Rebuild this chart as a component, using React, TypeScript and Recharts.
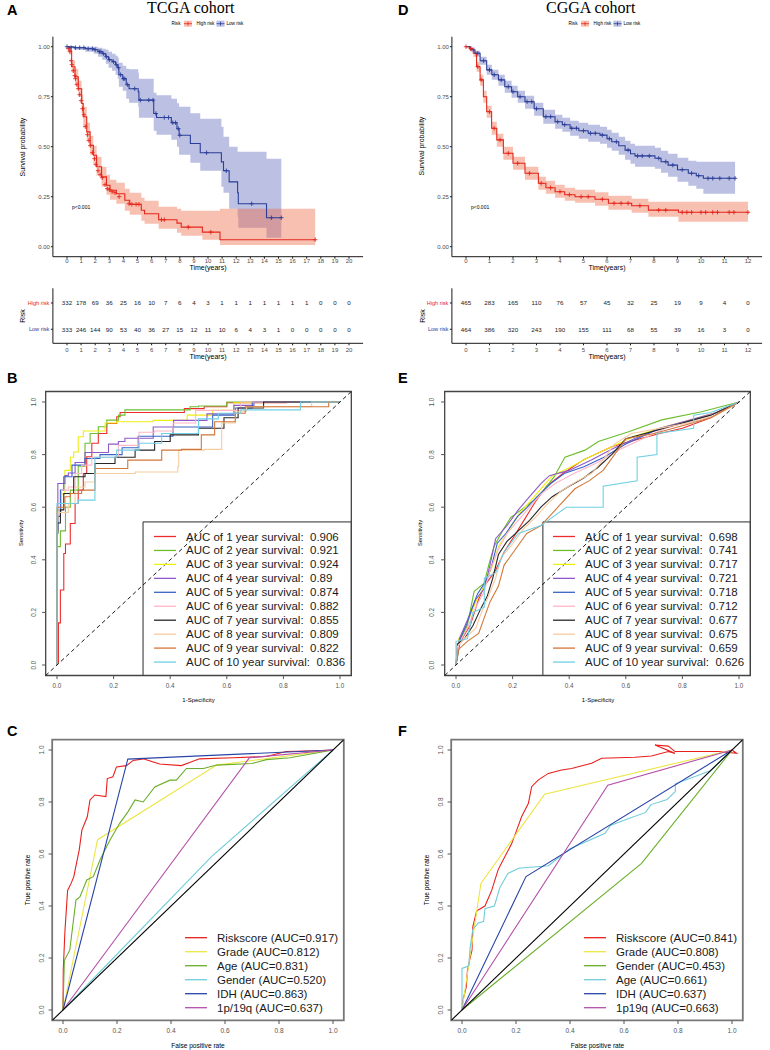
import React from "react";
import {
  Area,
  ComposedChart,
  Line,
  ReferenceArea,
  Scatter,
  XAxis,
  YAxis,
} from "recharts";

const SANS = "'Liberation Sans', Arial, Helvetica, sans-serif";
const SERIF = "'Liberation Serif', 'Times New Roman', serif";

const RED = "#E4261C";
const BLUE = "#2B3E97";
const RED_FILL = "#EF6A42";
const BLUE_FILL = "#4450B2";

// ---- Kaplan-Meier curves: [time, survival, lower CI, upper CI] ----
const tcgaHighKM = [
  [0, 1, 1, 1], [0.2, 0.98, 0.96, 1], [0.33, 0.9, 0.87, 0.93], [0.57, 0.85, 0.81, 0.89],
  [0.8, 0.79, 0.75, 0.83], [1.04, 0.716, 0.67, 0.76], [1.15, 0.65, 0.6, 0.7],
  [1.4, 0.574, 0.53, 0.62], [1.64, 0.507, 0.46, 0.555], [1.87, 0.457, 0.41, 0.505],
  [2.1, 0.4, 0.355, 0.45], [2.45, 0.349, 0.3, 0.4], [2.8, 0.307, 0.26, 0.36],
  [3.05, 0.282, 0.235, 0.335], [3.5, 0.265, 0.215, 0.32], [4.1, 0.232, 0.18, 0.29],
  [4.45, 0.212, 0.16, 0.27], [5.27, 0.182, 0.13, 0.245], [5.5, 0.165, 0.115, 0.23],
  [6.5, 0.135, 0.09, 0.2], [7.8, 0.118, 0.07, 0.19], [8.1, 0.098, 0.055, 0.18],
  [9.6, 0.073, 0.035, 0.18], [10.85, 0.035, 0.008, 0.19], [17.6, 0.035, 0.008, 0.19],
];
const tcgaLowKM = [
  [0, 1, 1, 1], [0.5, 0.995, 0.985, 1], [1.3, 0.99, 0.975, 1], [1.9, 0.985, 0.965, 1],
  [2.2, 0.975, 0.95, 0.995], [2.5, 0.965, 0.935, 0.99], [2.75, 0.95, 0.915, 0.985],
  [2.95, 0.935, 0.895, 0.975], [3.2, 0.925, 0.88, 0.965], [3.45, 0.91, 0.86, 0.955],
  [3.6, 0.895, 0.84, 0.945], [3.68, 0.86, 0.8, 0.92], [3.95, 0.84, 0.78, 0.905],
  [4.2, 0.81, 0.74, 0.89], [4.4, 0.79, 0.72, 0.887], [5.05, 0.775, 0.7, 0.87],
  [5.1, 0.733, 0.645, 0.84], [6.15, 0.666, 0.58, 0.77], [6.35, 0.646, 0.56, 0.757],
  [7.4, 0.62, 0.535, 0.74], [7.8, 0.59, 0.5, 0.717], [7.95, 0.557, 0.46, 0.7],
  [8.75, 0.516, 0.42, 0.667], [9.45, 0.47, 0.38, 0.64], [10.95, 0.424, 0.3, 0.6],
  [11.1, 0.38, 0.27, 0.55], [11.5, 0.324, 0.19, 0.5], [12.1, 0.27, 0.15, 0.475],
  [12.15, 0.215, 0.095, 0.475], [14.15, 0.145, 0.045, 0.44], [15.2, 0.145, 0.045, 0.44],
];
const tcgaHighCens = [
  [0.1, 0.99], [0.2, 0.975], [0.3, 0.93], [0.35, 0.91], [0.45, 0.88], [0.55, 0.855],
  [0.6, 0.84], [0.7, 0.81], [0.8, 0.79], [0.9, 0.76], [1.0, 0.73], [1.1, 0.69],
  [1.2, 0.66], [1.3, 0.6], [1.45, 0.56], [1.55, 0.53], [1.65, 0.505], [1.8, 0.47],
  [1.95, 0.44], [2.05, 0.41], [2.2, 0.38], [2.35, 0.36], [2.5, 0.345], [2.7, 0.31],
  [2.85, 0.29], [3.0, 0.285], [3.2, 0.275], [3.4, 0.27], [3.7, 0.25], [4.4, 0.215],
  [4.6, 0.212], [4.9, 0.212], [5.1, 0.212], [6.7, 0.135], [6.9, 0.135], [8.6, 0.098],
  [10.2, 0.073], [17.6, 0.035],
];
const tcgaLowCens = [
  [0, 1], [0.3, 0.995], [0.6, 0.995], [0.9, 0.995], [1.2, 0.995], [1.5, 0.99], [1.8, 0.99],
  [2.0, 0.985], [2.3, 0.975], [2.4, 0.975], [2.6, 0.965], [2.8, 0.95], [3.0, 0.935],
  [3.3, 0.925], [3.5, 0.91], [3.65, 0.895], [3.8, 0.86], [4.0, 0.84], [4.1, 0.84],
  [4.3, 0.81], [4.8, 0.79], [5.2, 0.733], [5.8, 0.733], [6.1, 0.733], [6.3, 0.666],
  [6.9, 0.646], [7.2, 0.646], [7.5, 0.62], [7.7, 0.62], [7.9, 0.59], [8.0, 0.557],
  [9.9, 0.47], [11.3, 0.38], [13.1, 0.215], [14.5, 0.145], [15.2, 0.145],
];

const cggaHighKM = [
  [0, 1, 1, 1], [0.15, 0.99, 0.98, 1], [0.31, 0.967, 0.95, 0.98], [0.45, 0.9, 0.875, 0.925],
  [0.6, 0.834, 0.805, 0.86], [0.74, 0.75, 0.72, 0.78], [0.88, 0.675, 0.645, 0.705],
  [1.09, 0.592, 0.56, 0.625], [1.31, 0.534, 0.5, 0.565], [1.59, 0.467, 0.435, 0.5],
  [2.0, 0.417, 0.385, 0.45], [2.51, 0.367, 0.335, 0.4], [3.08, 0.317, 0.285, 0.35],
  [3.4, 0.295, 0.265, 0.33], [3.79, 0.275, 0.245, 0.31], [4.2, 0.26, 0.23, 0.295],
  [4.64, 0.25, 0.22, 0.285], [5.49, 0.237, 0.205, 0.272], [6.06, 0.217, 0.185, 0.255],
  [7.05, 0.205, 0.17, 0.24], [7.76, 0.183, 0.15, 0.225], [9.04, 0.172, 0.125, 0.225],
  [12.0, 0.172, 0.125, 0.225],
];
const cggaLowKM = [
  [0, 1, 1, 1], [0.2, 0.985, 0.975, 0.995], [0.38, 0.967, 0.95, 0.98], [0.6, 0.93, 0.91, 0.95],
  [0.88, 0.884, 0.86, 0.91], [1.1, 0.86, 0.835, 0.885], [1.38, 0.834, 0.805, 0.86],
  [1.65, 0.8, 0.77, 0.83], [1.94, 0.775, 0.745, 0.805], [2.2, 0.75, 0.72, 0.78],
  [2.51, 0.725, 0.69, 0.755], [2.9, 0.69, 0.655, 0.72], [3.29, 0.65, 0.615, 0.685],
  [3.79, 0.625, 0.59, 0.66], [4.1, 0.61, 0.575, 0.645], [4.43, 0.592, 0.555, 0.63],
  [4.8, 0.58, 0.54, 0.62], [5.2, 0.567, 0.525, 0.61], [5.7, 0.558, 0.515, 0.6],
  [6.0, 0.54, 0.495, 0.585], [6.2, 0.525, 0.48, 0.57], [6.5, 0.505, 0.46, 0.55],
  [6.77, 0.483, 0.435, 0.53], [7.0, 0.465, 0.415, 0.515], [7.19, 0.454, 0.4, 0.505],
  [8.04, 0.442, 0.39, 0.495], [8.3, 0.425, 0.37, 0.48], [8.6, 0.408, 0.35, 0.465],
  [9.0, 0.385, 0.325, 0.445], [9.46, 0.367, 0.305, 0.43], [9.8, 0.355, 0.29, 0.425],
  [10.1, 0.342, 0.265, 0.425], [11.45, 0.342, 0.265, 0.425],
];
const cggaHighCens = [
  [0, 1], [0.2, 0.99], [0.5, 0.9], [0.65, 0.834], [1.0, 0.675], [1.2, 0.592], [1.45, 0.534],
  [1.8, 0.467], [2.2, 0.417], [2.7, 0.367], [3.2, 0.317], [3.6, 0.295], [4.0, 0.275],
  [4.4, 0.26], [4.9, 0.25], [5.2, 0.25], [5.8, 0.237], [6.3, 0.217], [6.6, 0.217],
  [6.9, 0.217], [7.4, 0.205], [8.2, 0.183], [8.5, 0.183], [9.2, 0.172], [9.4, 0.172],
  [9.6, 0.172], [10.0, 0.172], [10.2, 0.172], [10.5, 0.172], [10.7, 0.172], [11.2, 0.172],
  [11.4, 0.172], [12.0, 0.172],
];
const cggaLowCens = [
  [0.5, 0.967], [0.75, 0.93], [1.0, 0.884], [1.2, 0.86], [1.5, 0.834], [1.8, 0.8],
  [2.0, 0.775], [2.3, 0.75], [2.6, 0.725], [2.8, 0.725], [3.0, 0.69], [3.4, 0.65],
  [3.6, 0.65], [3.9, 0.625], [4.2, 0.61], [4.5, 0.592], [4.7, 0.592], [5.0, 0.58],
  [5.3, 0.567], [5.5, 0.567], [5.8, 0.558], [6.1, 0.54], [6.4, 0.525], [6.9, 0.483],
  [7.3, 0.454], [7.5, 0.454], [7.8, 0.454], [8.2, 0.442], [8.5, 0.425], [8.8, 0.408],
  [9.2, 0.385], [9.6, 0.367], [9.9, 0.355], [10.3, 0.342], [10.5, 0.342], [10.8, 0.342],
  [11.2, 0.342], [11.45, 0.342],
];

// ---- numbers at risk ----
const tcgaYears = [0, 1, 2, 3, 4, 5, 6, 7, 8, 9, 10, 11, 12, 13, 14, 15, 16, 17, 18, 19, 20];
const tcgaHighRisk = [332, 178, 69, 36, 25, 16, 10, 7, 6, 4, 3, 1, 1, 1, 1, 1, 1, 1, 0, 0, 0];
const tcgaLowRisk = [333, 246, 144, 90, 53, 40, 36, 27, 15, 12, 11, 10, 6, 4, 3, 1, 0, 0, 0, 0, 0];
const cggaYears = [0, 1, 2, 3, 4, 5, 6, 7, 8, 9, 10, 11, 12];
const cggaHighRisk = [465, 283, 165, 110, 76, 57, 45, 32, 25, 19, 9, 4, 0];
const cggaLowRisk = [464, 386, 320, 243, 190, 155, 111, 68, 55, 39, 16, 3, 0];
const riskGroups = ["Low risk", "High risk"];

// ---- time-dependent ROC (B: TCGA, E: CGGA) ----
const yearLabels = ["1", "2", "3", "4", "5", "6", "7", "8", "9", "10"];
const yearColors = ["#EE2C2C", "#6DBE2E", "#EEEE10", "#8E5AC8", "#3A63C6", "#FFB6C8", "#262626", "#F5CBA0", "#D2773A", "#6FD0E3"];
const tcgaYearAuc = ["0.906", "0.921", "0.924", "0.89", "0.874", "0.882", "0.855", "0.809", "0.822", "0.836"];
const cggaYearAuc = ["0.698", "0.741", "0.717", "0.721", "0.718", "0.712", "0.677", "0.675", "0.659", "0.626"];

const tcgaYearRoc = [
  [[0, 0], [0.005, 0.01], [0.012, 0.16], [0.024, 0.285], [0.03, 0.424], [0.047, 0.46], [0.064, 0.538], [0.075, 0.614], [0.093, 0.665], [0.105, 0.728], [0.123, 0.792], [0.146, 0.843], [0.176, 0.88], [0.211, 0.918], [0.223, 0.944], [0.27, 0.96], [0.45, 0.96], [0.52, 0.975], [0.6, 0.982], [0.81, 0.997], [1, 1]],
  [[0, 0], [0, 0.36], [0.012, 0.45], [0.03, 0.51], [0.047, 0.6], [0.075, 0.665], [0.099, 0.756], [0.117, 0.843], [0.146, 0.88], [0.176, 0.906], [0.217, 0.931], [0.24, 0.95], [0.3, 0.97], [0.47, 0.97], [0.5, 0.982], [0.6, 0.985], [0.81, 1], [1, 1]],
  [[0, 0], [0, 0.49], [0.016, 0.59], [0.028, 0.65], [0.047, 0.74], [0.059, 0.79], [0.075, 0.81], [0.093, 0.868], [0.17, 0.89], [0.21, 0.92], [0.34, 0.925], [0.46, 0.93], [0.55, 0.95], [0.625, 0.968], [0.717, 0.997], [1, 1]],
  [[0, 0], [0.003, 0.54], [0.028, 0.69], [0.04, 0.72], [0.064, 0.73], [0.099, 0.77], [0.182, 0.808], [0.217, 0.84], [0.24, 0.85], [0.34, 0.862], [0.412, 0.905], [0.53, 0.93], [0.625, 0.955], [0.696, 0.987], [0.85, 1], [1, 1]],
  [[0, 0], [0.003, 0.51], [0.012, 0.565], [0.024, 0.665], [0.053, 0.716], [0.099, 0.76], [0.152, 0.785], [0.23, 0.8], [0.287, 0.826], [0.41, 0.87], [0.55, 0.905], [0.63, 0.95], [0.69, 0.977], [1, 1]],
  [[0, 0], [0, 0.46], [0.016, 0.58], [0.04, 0.665], [0.064, 0.677], [0.087, 0.728], [0.123, 0.76], [0.217, 0.79], [0.29, 0.835], [0.345, 0.885], [0.41, 0.89], [0.49, 0.92], [0.65, 0.968], [0.95, 1], [1, 1]],
  [[0, 0], [0.003, 0.5], [0.012, 0.54], [0.024, 0.59], [0.059, 0.652], [0.099, 0.716], [0.134, 0.728], [0.205, 0.766], [0.276, 0.79], [0.345, 0.817], [0.4, 0.85], [0.5, 0.875], [0.59, 0.9], [0.64, 0.94], [0.73, 0.977], [0.87, 1], [1, 1]],
  [[0, 0], [0.003, 0.55], [0.04, 0.58], [0.064, 0.614], [0.099, 0.677], [0.134, 0.696], [0.276, 0.728], [0.427, 0.734], [0.43, 0.754], [0.52, 0.817], [0.582, 0.82], [0.582, 0.875], [0.63, 0.92], [0.67, 0.965], [0.9, 0.982], [1, 1]],
  [[0, 0], [0, 0.6], [0.028, 0.6], [0.047, 0.64], [0.087, 0.652], [0.134, 0.665], [0.25, 0.747], [0.37, 0.779], [0.44, 0.817], [0.51, 0.82], [0.557, 0.875], [0.63, 0.925], [0.665, 0.957], [0.96, 0.982], [1, 1]],
  [[0, 0], [0, 0.58], [0.075, 0.614], [0.134, 0.627], [0.211, 0.79], [0.29, 0.817], [0.37, 0.843], [0.5, 0.88], [0.57, 0.936], [0.65, 0.957], [0.86, 0.97], [1, 1]],
];
const cggaYearRoc = [
  [[0, 0], [0.01, 0.08], [0.05, 0.15], [0.08, 0.25], [0.1, 0.3], [0.14, 0.36], [0.17, 0.43], [0.2, 0.48], [0.24, 0.55], [0.28, 0.62], [0.32, 0.68], [0.38, 0.73], [0.45, 0.78], [0.55, 0.83], [0.65, 0.86], [0.72, 0.88], [0.8, 0.9], [0.9, 0.94], [1, 1]],
  [[0, 0], [0.012, 0.09], [0.04, 0.15], [0.064, 0.28], [0.099, 0.31], [0.117, 0.385], [0.134, 0.45], [0.164, 0.51], [0.193, 0.56], [0.23, 0.59], [0.276, 0.627], [0.31, 0.665], [0.347, 0.716], [0.385, 0.79], [0.456, 0.817], [0.503, 0.85], [0.61, 0.887], [0.727, 0.932], [0.868, 0.963], [1, 1]],
  [[0, 0], [0.01, 0.1], [0.04, 0.16], [0.07, 0.24], [0.1, 0.3], [0.13, 0.38], [0.15, 0.45], [0.18, 0.5], [0.22, 0.57], [0.26, 0.62], [0.3, 0.67], [0.34, 0.72], [0.4, 0.75], [0.47, 0.79], [0.55, 0.83], [0.63, 0.87], [0.72, 0.9], [0.82, 0.93], [0.92, 0.96], [1, 1]],
  [[0, 0], [0.012, 0.1], [0.04, 0.17], [0.07, 0.25], [0.1, 0.29], [0.12, 0.38], [0.14, 0.48], [0.18, 0.53], [0.22, 0.59], [0.26, 0.64], [0.3, 0.69], [0.33, 0.72], [0.4, 0.74], [0.48, 0.78], [0.55, 0.82], [0.63, 0.86], [0.72, 0.9], [0.82, 0.93], [0.92, 0.96], [1, 1]],
  [[0, 0], [0.017, 0.104], [0.04, 0.16], [0.058, 0.22], [0.076, 0.27], [0.094, 0.3], [0.111, 0.33], [0.128, 0.386], [0.146, 0.463], [0.176, 0.5], [0.217, 0.564], [0.252, 0.6], [0.287, 0.64], [0.335, 0.69], [0.382, 0.728], [0.452, 0.754], [0.523, 0.79], [0.6, 0.84], [0.7, 0.89], [0.8, 0.92], [0.9, 0.95], [1, 1]],
  [[0, 0], [0.01, 0.08], [0.04, 0.14], [0.07, 0.22], [0.1, 0.28], [0.12, 0.36], [0.15, 0.44], [0.18, 0.5], [0.22, 0.55], [0.26, 0.6], [0.3, 0.65], [0.35, 0.69], [0.42, 0.73], [0.5, 0.77], [0.58, 0.82], [0.66, 0.86], [0.74, 0.9], [0.84, 0.93], [0.92, 0.96], [1, 1]],
  [[0, 0], [0.005, 0.08], [0.03, 0.1], [0.06, 0.15], [0.09, 0.22], [0.11, 0.26], [0.13, 0.33], [0.15, 0.42], [0.18, 0.47], [0.22, 0.51], [0.26, 0.55], [0.3, 0.6], [0.34, 0.64], [0.4, 0.68], [0.45, 0.71], [0.5, 0.75], [0.55, 0.8], [0.6, 0.86], [0.7, 0.89], [0.8, 0.92], [0.9, 0.95], [1, 1]],
  [[0, 0], [0.005, 0.07], [0.03, 0.1], [0.07, 0.14], [0.09, 0.2], [0.11, 0.25], [0.14, 0.33], [0.16, 0.41], [0.2, 0.46], [0.24, 0.52], [0.28, 0.56], [0.32, 0.61], [0.37, 0.66], [0.43, 0.7], [0.48, 0.73], [0.52, 0.78], [0.56, 0.84], [0.62, 0.88], [0.72, 0.9], [0.82, 0.92], [0.92, 0.95], [1, 1]],
  [[0, 0], [0.01, 0.06], [0.04, 0.09], [0.08, 0.12], [0.1, 0.18], [0.12, 0.24], [0.15, 0.3], [0.17, 0.38], [0.21, 0.44], [0.25, 0.5], [0.3, 0.53], [0.36, 0.6], [0.42, 0.67], [0.47, 0.7], [0.52, 0.74], [0.56, 0.8], [0.6, 0.86], [0.7, 0.88], [0.8, 0.91], [0.9, 0.94], [1, 1]],
  [[0, 0], [0, 0.09], [0.04, 0.1], [0.06, 0.2], [0.1, 0.22], [0.1, 0.33], [0.14, 0.35], [0.17, 0.43], [0.22, 0.5], [0.3, 0.53], [0.39, 0.6], [0.52, 0.6], [0.52, 0.68], [0.64, 0.7], [0.64, 0.79], [0.71, 0.8], [0.71, 0.88], [0.84, 0.9], [0.84, 0.95], [0.9, 0.96], [1, 1]],
];

// ---- clinical ROC (C: TCGA, F: CGGA) ----
const tcgaClinNames = ["Riskscore", "Grade", "Age", "Gender", "IDH", "1p/19q"];
const tcgaClinAuc = ["0.917", "0.812", "0.831", "0.520", "0.863", "0.637"];
const tcgaClinColors = ["#E8201D", "#EDE544", "#6AAE2A", "#70CCD8", "#2A45A8", "#B450A8"];
const tcgaClinRoc = [
  [[0, 0], [0.001, 0.153], [0.007, 0.3], [0.017, 0.46], [0.03, 0.487], [0.04, 0.513], [0.05, 0.564], [0.06, 0.615], [0.07, 0.692], [0.09, 0.743], [0.1, 0.808], [0.118, 0.827], [0.159, 0.821], [0.164, 0.89], [0.185, 0.897], [0.198, 0.935], [0.235, 0.94], [0.26, 0.96], [0.297, 0.966], [0.358, 0.946], [0.438, 0.94], [0.506, 0.966], [0.63, 0.97], [0.753, 0.975], [0.827, 0.994], [0.938, 0.997], [1, 1]],
  [[0, 0], [0.128, 0.655], [0.569, 0.942], [1, 1]],
  [[0, 0], [0.005, 0.19], [0.025, 0.23], [0.048, 0.423], [0.063, 0.436], [0.088, 0.5], [0.112, 0.513], [0.137, 0.577], [0.174, 0.654], [0.21, 0.718], [0.241, 0.763], [0.267, 0.808], [0.297, 0.8], [0.34, 0.858], [0.396, 0.884], [0.42, 0.884], [0.457, 0.929], [0.52, 0.929], [0.569, 0.942], [0.7, 0.948], [0.753, 0.963], [0.84, 0.97], [1, 1]],
  [[0, 0], [0.55, 0.59], [1, 1]],
  [[0, 0], [0.24, 0.965], [1, 1]],
  [[0, 0], [0.69, 0.97], [1, 1]],
];
const cggaClinNames = ["Riskscore", "Grade", "Gender", "Age", "IDH", "1p19q"];
const cggaClinAuc = ["0.841", "0.808", "0.453", "0.661", "0.637", "0.663"];
const cggaClinColors = ["#E8201D", "#EDE544", "#6AAE2A", "#70CCD8", "#2A45A8", "#B450A8"];
const cggaClinRoc = [
  [[0, 0], [0.004, 0.04], [0.016, 0.09], [0.02, 0.15], [0.03, 0.2], [0.037, 0.23], [0.04, 0.32], [0.054, 0.38], [0.06, 0.385], [0.085, 0.4], [0.11, 0.46], [0.134, 0.54], [0.159, 0.59], [0.184, 0.64], [0.202, 0.69], [0.221, 0.744], [0.246, 0.795], [0.258, 0.859], [0.283, 0.885], [0.32, 0.91], [0.369, 0.923], [0.406, 0.929], [0.48, 0.949], [0.517, 0.968], [0.64, 0.972], [0.702, 0.977], [0.764, 0.994], [0.789, 0.987], [0.715, 1.019], [0.764, 1.015], [0.789, 0.994], [0.949, 0.994], [1.017, 0.987], [1, 1]],
  [[0, 0], [0.07, 0.487], [0.306, 0.83], [1, 1]],
  [[0, 0], [0.665, 0.564], [1, 1]],
  [[0, 0], [0, 0.16], [0.025, 0.17], [0.03, 0.24], [0.04, 0.31], [0.06, 0.335], [0.08, 0.34], [0.085, 0.39], [0.12, 0.4], [0.14, 0.47], [0.17, 0.525], [0.21, 0.545], [0.32, 0.555], [0.4, 0.62], [0.53, 0.68], [0.55, 0.71], [0.6, 0.73], [0.68, 0.76], [0.7, 0.79], [0.76, 0.81], [0.79, 0.84], [0.79, 0.87], [0.92, 0.92], [1, 1]],
  [[0, 0], [0.237, 0.513], [1, 1]],
  [[0, 0], [0.54, 0.865], [1, 1]],
];
const diagonal = [[-0.04, -0.04], [1.04, 1.04]];

type Rect = { l: number; t: number; w: number; h: number };

function frame(box: Rect, plot: Rect) {
  return {
    margin: { top: plot.t - box.t, right: box.l + box.w - plot.l - plot.w, bottom: 0, left: 0 },
    yw: plot.l - box.l,
    xh: box.t + box.h - plot.t - plot.h,
  };
}

const kmRows = (rows: number[][]) => rows.map(([t, s, lo, hi]) => ({ t, s, band: [lo, hi] }));
const pts = (rows: number[][]) => rows.map(([t, s]) => ({ t, s }));
const xy = (rows: number[][]) => rows.map(([x, y]) => ({ x, y }));

const crossShape = (color: string) => (p: any) => (
  <path
    d={`M${p.cx - 2.2},${p.cy}h4.4M${p.cx},${p.cy - 2.2}v4.4`}
    stroke={color}
    strokeWidth={0.9}
    fill="none"
  />
);

function KMChart({ box, plot, xDomain, xTicks, high, low, highCens, lowCens }: any) {
  const L = frame(box, plot);
  const tickStyle = { fontSize: 6, fill: "#4d4d4d", fontFamily: SANS };
  return (
    <div style={{ position: "absolute", left: box.l, top: box.t }}>
      <ComposedChart width={box.w} height={box.h} margin={L.margin}>
        <XAxis
          type="number"
          dataKey="t"
          domain={xDomain}
          ticks={xTicks}
          interval={0}
          allowDataOverflow
          height={L.xh}
          tickSize={2}
          tickMargin={0.5}
          stroke="#1a1a1a"
          tick={tickStyle}
        />
        <YAxis
          type="number"
          domain={[-0.05, 1.05]}
          ticks={[0, 0.25, 0.5, 0.75, 1]}
          interval={0}
          allowDataOverflow
          width={L.yw}
          tickSize={2}
          tickMargin={1}
          stroke="#1a1a1a"
          tickFormatter={(v: number) => v.toFixed(2)}
          tick={tickStyle}
        />
        <Area data={kmRows(low)} dataKey="band" type="stepAfter" stroke="none" fill={BLUE_FILL} fillOpacity={0.36} isAnimationActive={false} />
        <Area data={kmRows(high)} dataKey="band" type="stepAfter" stroke="none" fill={RED_FILL} fillOpacity={0.42} isAnimationActive={false} />
        <Line data={kmRows(high)} dataKey="s" type="stepAfter" stroke={RED} strokeWidth={1.1} dot={false} isAnimationActive={false} />
        <Line data={kmRows(low)} dataKey="s" type="stepAfter" stroke={BLUE} strokeWidth={1.1} dot={false} isAnimationActive={false} />
        <Scatter data={pts(highCens)} dataKey="s" shape={crossShape(RED)} isAnimationActive={false} />
        <Scatter data={pts(lowCens)} dataKey="s" shape={crossShape(BLUE)} isAnimationActive={false} />
      </ComposedChart>
    </div>
  );
}

const countShape = (p: any) => (
  <text x={p.cx} y={p.cy} textAnchor="middle" dominantBaseline="central" fontSize={6.2} fill="#1a1a1a" fontFamily={SANS}>
    {p.payload.n}
  </text>
);

const riskTick = (p: any) => {
  const v = Number(p.payload.value);
  return (
    <text x={p.x} y={p.y} textAnchor="end" dominantBaseline="central" fontSize={5.6} fill={v === 2 ? RED : BLUE} fontFamily={SANS}>
      {riskGroups[v - 1]}
    </text>
  );
};

function RiskChart({ box, plot, xDomain, times, high, low }: any) {
  const L = frame(box, plot);
  const highRows = times.map((t: number, i: number) => ({ t, y: 2, n: high[i] }));
  const lowRows = times.map((t: number, i: number) => ({ t, y: 1, n: low[i] }));
  return (
    <div style={{ position: "absolute", left: box.l, top: box.t }}>
      <ComposedChart width={box.w} height={box.h} margin={L.margin}>
        <XAxis
          type="number"
          dataKey="t"
          domain={xDomain}
          ticks={times}
          interval={0}
          allowDataOverflow
          height={L.xh}
          tickSize={2}
          tickMargin={2.4}
          stroke="#1a1a1a"
          tick={{ fontSize: 6, fill: "#4d4d4d", fontFamily: SANS }}
        />
        <YAxis
          type="number"
          domain={[0.467, 2.559]}
          ticks={[1, 2]}
          interval={0}
          allowDataOverflow
          width={L.yw}
          tickSize={2}
          tickMargin={1.5}
          stroke="#1a1a1a"
          tick={riskTick}
        />
        <Scatter data={highRows} dataKey="y" shape={countShape} isAnimationActive={false} />
        <Scatter data={lowRows} dataKey="y" shape={countShape} isAnimationActive={false} />
      </ComposedChart>
    </div>
  );
}

const rotTick = (fs: number) => (p: any) => (
  <text
    x={p.x}
    y={p.y}
    transform={`rotate(-90 ${p.x} ${p.y})`}
    textAnchor="middle"
    fontSize={fs}
    fill="#555"
    fontFamily={SANS}
  >
    {Number(p.payload.value).toFixed(1)}
  </text>
);

function RocChart({ box, plot, curves, colors, lineType, boxStroke, boxWidth, dashed, legendX, legendTop, fs, yMargin }: any) {
  const L = frame(box, plot);
  return (
    <div style={{ position: "absolute", left: box.l, top: box.t }}>
      <ComposedChart width={box.w} height={box.h} margin={L.margin}>
        <XAxis
          type="number"
          dataKey="x"
          domain={[-0.04, 1.04]}
          ticks={[0, 0.2, 0.4, 0.6, 0.8, 1]}
          interval={0}
          allowDataOverflow
          axisLine={false}
          height={L.xh}
          tickSize={3.6}
          tickMargin={4.7}
          stroke="#555"
          tickFormatter={(v: number) => v.toFixed(1)}
          tick={{ fontSize: fs, fill: "#555", fontFamily: SANS }}
        />
        <YAxis
          type="number"
          domain={[-0.04, 1.04]}
          ticks={[0, 0.2, 0.4, 0.6, 0.8, 1]}
          interval={0}
          allowDataOverflow
          axisLine={false}
          width={L.yw}
          tickSize={3.6}
          tickMargin={yMargin}
          stroke="#555"
          tick={rotTick(fs)}
        />
        {curves.map((c: number[][], i: number) => (
          <Line
            key={i}
            data={xy(c)}
            dataKey="y"
            type={lineType}
            stroke={colors[i]}
            strokeWidth={1.1}
            dot={false}
            isAnimationActive={false}
          />
        ))}
        <Line
          data={xy(diagonal)}
          dataKey="y"
          type="linear"
          stroke="#000"
          strokeWidth={dashed ? 0.9 : 1.1}
          strokeDasharray={dashed ? "4 3" : undefined}
          dot={false}
          isAnimationActive={false}
        />
        {legendX != null && (
          <ReferenceArea x1={legendX} x2={1.04} y1={-0.04} y2={legendTop} fill="none" fillOpacity={0} stroke="#111" strokeWidth={0.9} />
        )}
        <ReferenceArea x1={-0.04} x2={1.04} y1={-0.04} y2={1.04} fill="none" fillOpacity={0} stroke={boxStroke} strokeWidth={boxWidth} />
      </ComposedChart>
    </div>
  );
}

function KMKey({ x, y }: { x: number; y: number }) {
  return (
    <g>
      <text x={x} y={y} fontSize={4.6} dominantBaseline="central" fontFamily={SANS}>Risk</text>
      <rect x={x + 12.5} y={y - 3} width={8} height={6} fill={RED_FILL} fillOpacity={0.42} />
      <path d={`M${x + 12.5},${y}h8M${x + 16.5},${y - 2}v4`} stroke={RED} strokeWidth={0.8} />
      <text x={x + 25} y={y} fontSize={4.6} dominantBaseline="central" fontFamily={SANS}>High risk</text>
      <rect x={x + 45} y={y - 3} width={8} height={6} fill={BLUE_FILL} fillOpacity={0.36} />
      <path d={`M${x + 45},${y}h8M${x + 49},${y - 2}v4`} stroke={BLUE} strokeWidth={0.8} />
      <text x={x + 55} y={y} fontSize={4.6} dominantBaseline="central" fontFamily={SANS}>Low risk</text>
    </g>
  );
}

function RocLegend({ x, y, step, labels, colors }: any) {
  return (
    <g>
      {labels.map((lab: string, i: number) => (
        <g key={i}>
          <line x1={x} x2={x + 22} y1={y + i * step} y2={y + i * step} stroke={colors[i]} strokeWidth={1.3} />
          <text
            x={x + 32}
            y={y + i * step}
            fontSize={11.5}
            dominantBaseline="central"
            fill="#1a1a1a"
            fontFamily={SANS}
            style={{ whiteSpace: "pre" }}
          >
            {lab}
          </text>
        </g>
      ))}
    </g>
  );
}

const RotText = ({ x, y, size, children }: any) => (
  <text x={x} y={y} transform={`rotate(-90 ${x} ${y})`} textAnchor="middle" dominantBaseline="central" fontSize={size} fontFamily={SANS}>
    {children}
  </text>
);
const MidText = ({ x, y, size, children }: any) => (
  <text x={x} y={y} textAnchor="middle" dominantBaseline="central" fontSize={size} fontFamily={SANS}>
    {children}
  </text>
);
const Letter = ({ x, y, children }: any) => (
  <text x={x} y={y} fontSize={14.5} fontWeight="bold" fontFamily={SANS}>{children}</text>
);

export default function App() {
  const yearLegend = (auc: string[]) => yearLabels.map((y, i) => `AUC of ${y} year survival:  ${auc[i]}`);
  const clinLegend = (names: string[], auc: string[]) => names.map((n, i) => `${n} (AUC=${auc[i]})`);
  return (
    <div style={{ position: "absolute", left: 0, top: 0, width: 770, height: 1050, background: "#fff", overflow: "hidden" }}>
      <KMChart
        box={{ l: 0, t: 0, w: 385, h: 275 }}
        plot={{ l: 52.9, t: 36.7, w: 310.2, h: 220 }}
        xDomain={[-1, 21]}
        xTicks={tcgaYears}
        high={tcgaHighKM}
        low={tcgaLowKM}
        highCens={tcgaHighCens}
        lowCens={tcgaLowCens}
      />
      <KMChart
        box={{ l: 385, t: 0, w: 385, h: 275 }}
        plot={{ l: 451.9, t: 36.7, w: 310.2, h: 220 }}
        xDomain={[-0.6, 12.6]}
        xTicks={cggaYears}
        high={cggaHighKM}
        low={cggaLowKM}
        highCens={cggaHighCens}
        lowCens={cggaLowCens}
      />
      <RiskChart
        box={{ l: 0, t: 280, w: 385, h: 85 }}
        plot={{ l: 52.9, t: 288.3, w: 310.2, h: 55 }}
        xDomain={[-1, 21]}
        times={tcgaYears}
        high={tcgaHighRisk}
        low={tcgaLowRisk}
      />
      <RiskChart
        box={{ l: 385, t: 280, w: 385, h: 85 }}
        plot={{ l: 451.9, t: 288.3, w: 310.2, h: 55 }}
        xDomain={[-0.6, 12.6]}
        times={cggaYears}
        high={cggaHighRisk}
        low={cggaLowRisk}
      />
      <RocChart
        box={{ l: 0, t: 380, w: 385, h: 330 }}
        plot={{ l: 45.68, t: 391.48, w: 305.64, h: 284.04 }}
        curves={tcgaYearRoc}
        colors={yearColors}
        lineType="stepBefore"
        boxStroke="#444"
        boxWidth={1.3}
        dashed
        legendX={0.304}
        legendTop={0.544}
        fs={6.3}
        yMargin={6.5}
      />
      <RocChart
        box={{ l: 385, t: 380, w: 385, h: 330 }}
        plot={{ l: 444.68, t: 391.48, w: 305.64, h: 284.04 }}
        curves={cggaYearRoc}
        colors={yearColors}
        lineType="linear"
        boxStroke="#444"
        boxWidth={1.3}
        dashed
        legendX={0.307}
        legendTop={0.544}
        fs={6.3}
        yMargin={7}
      />
      <RocChart
        box={{ l: 0, t: 725, w: 385, h: 325 }}
        plot={{ l: 52.2, t: 739.6, w: 291.6, h: 280.8 }}
        curves={tcgaClinRoc}
        colors={tcgaClinColors}
        lineType="linear"
        boxStroke="#777"
        boxWidth={1.8}
        dashed={false}
        fs={6.5}
        yMargin={4.6}
      />
      <RocChart
        box={{ l: 385, t: 725, w: 385, h: 325 }}
        plot={{ l: 451.2, t: 739.6, w: 291.6, h: 280.8 }}
        curves={cggaClinRoc}
        colors={cggaClinColors}
        lineType="linear"
        boxStroke="#777"
        boxWidth={1.8}
        dashed={false}
        fs={6.5}
        yMargin={4.6}
      />
      <svg width={770} height={1050} style={{ position: "absolute", left: 0, top: 0, pointerEvents: "none" }}>
        <Letter x={7} y={15.3}>A</Letter>
        <Letter x={398} y={15.3}>D</Letter>
        <Letter x={7} y={383}>B</Letter>
        <Letter x={398} y={383}>E</Letter>
        <Letter x={7} y={735.5}>C</Letter>
        <Letter x={398} y={735.5}>F</Letter>
        <text x={190.8} y={13.3} textAnchor="middle" fontSize={16} fontFamily={SERIF}>TCGA cohort</text>
        <text x={590.7} y={13.3} textAnchor="middle" fontSize={16} fontFamily={SERIF}>CGGA cohort</text>
        <KMKey x={171.5} y={23.7} />
        <KMKey x={568.5} y={23.7} />
        <RotText x={22.5} y={147} size={7}>Survival probability</RotText>
        <RotText x={421} y={146} size={7}>Survival probability</RotText>
        <text x={72} y={206.7} fontSize={5} dominantBaseline="central" fontFamily={SANS}>p&lt;0.001</text>
        <text x={471} y={206.7} fontSize={5} dominantBaseline="central" fontFamily={SANS}>p&lt;0.001</text>
        <MidText x={208} y={267.5} size={7}>Time(years)</MidText>
        <MidText x={607} y={267.5} size={7}>Time(years)</MidText>
        <RotText x={22.5} y={316} size={7}>Risk</RotText>
        <RotText x={422.5} y={316} size={7}>Risk</RotText>
        <MidText x={208} y={356.5} size={7}>Time(years)</MidText>
        <MidText x={607} y={356.5} size={7}>Time(years)</MidText>
        <RotText x={20.7} y={533} size={5.8}>Sensitivity</RotText>
        <RotText x={420} y={533} size={5.8}>Sensitivity</RotText>
        <MidText x={198.5} y={700} size={6}>1-Specificity</MidText>
        <MidText x={598} y={700} size={6}>1-Specificity</MidText>
        <RotText x={27.7} y={880} size={6.6}>True positive rate</RotText>
        <RotText x={426.7} y={880} size={6.6}>True positive rate</RotText>
        <MidText x={198} y={1045.5} size={6.6}>False positive rate</MidText>
        <MidText x={597.5} y={1045.5} size={6.6}>False positive rate</MidText>
        <RocLegend x={154} y={536.5} step={13.95} labels={yearLegend(tcgaYearAuc)} colors={yearColors} />
        <RocLegend x={553} y={536.5} step={13.95} labels={yearLegend(cggaYearAuc)} colors={yearColors} />
        <RocLegend x={185} y={937.7} step={14} labels={clinLegend(tcgaClinNames, tcgaClinAuc)} colors={tcgaClinColors} />
        <RocLegend x={584} y={937.7} step={14} labels={clinLegend(cggaClinNames, cggaClinAuc)} colors={cggaClinColors} />
      </svg>
    </div>
  );
}
